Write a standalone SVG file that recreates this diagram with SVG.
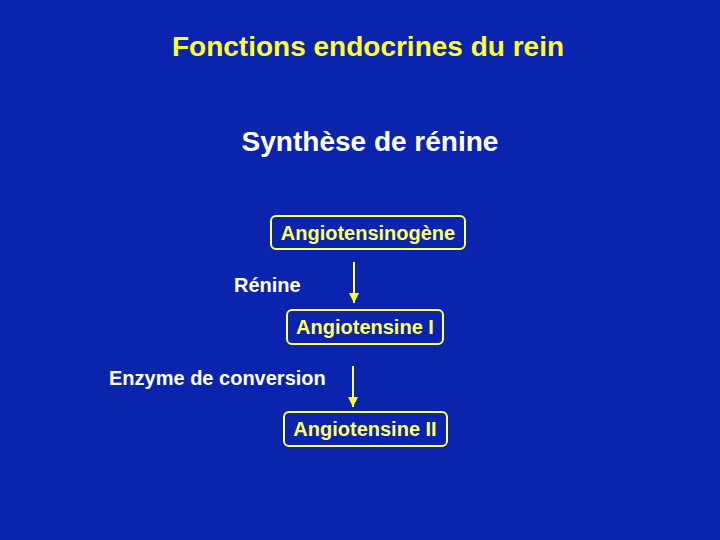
<svg xmlns="http://www.w3.org/2000/svg" width="720" height="540" viewBox="0 0 720 540">
<defs>
<style>
text{font-family:"Liberation Sans",Arial,sans-serif;font-weight:bold}
.t{fill:#ffff33;font-size:28px}
.w{fill:#ffffff}
.b{fill:#ffff66;font-size:20px}
.box{fill:#0b24ae;stroke:#ffff66;stroke-width:2}
.c{stroke:#ffff33;stroke-width:2;fill:none}
</style>
<marker id="ah" viewBox="0 0 10 10" refX="10" refY="5" markerWidth="5" markerHeight="5" orient="auto" markerUnits="strokeWidth">
<path d="M0,0 L10,5 L0,10 z" fill="#ffff33"/>
</marker>
</defs>
<rect width="720" height="540" fill="#0b24ae"/>
<text class="t" x="368" y="56" text-anchor="middle">Fonctions endocrines du rein</text>
<text class="w" x="370" y="151" text-anchor="middle" font-size="28">Synthèse de rénine</text>
<text class="w" x="234" y="292" font-size="20">Rénine</text>
<text class="w" x="109" y="385" font-size="20">Enzyme de conversion</text>
<g id="n1"><rect class="box" x="271" y="216" width="194" height="33" rx="5"/><text class="b" x="368" y="240" text-anchor="middle">Angiotensinogène</text></g>
<g id="n2"><rect class="box" x="287" y="310" width="156" height="34" rx="5"/><text class="b" x="365" y="334" text-anchor="middle">Angiotensine I</text></g>
<g id="n3"><rect class="box" x="284" y="412" width="163" height="34" rx="5"/><text class="b" x="365" y="436" text-anchor="middle">Angiotensine II</text></g>
<g id="connectors">
<line class="c" x1="354" y1="262" x2="354" y2="303" marker-end="url(#ah)"/>
<line class="c" x1="353" y1="366" x2="353" y2="407" marker-end="url(#ah)"/>
</g>
</svg>
